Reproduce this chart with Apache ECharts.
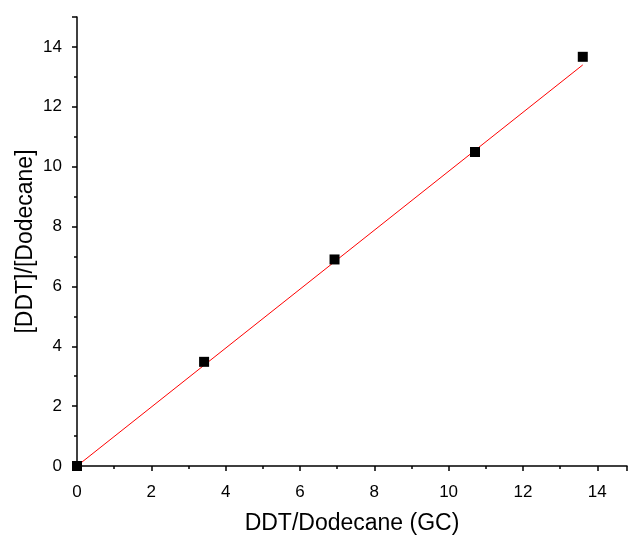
<!DOCTYPE html>
<html><head><meta charset="utf-8">
<script src="https://cdn.jsdelivr.net/npm/echarts@6/dist/echarts.min.js"></script>
<style>html,body{margin:0;padding:0;background:#fff}#c{width:628px;height:536px}</style>
</head><body><div id="c"></div>
<script>
const xValues = [0, 3.42, 6.93, 10.71, 13.61];
const yValues = [0, 3.48, 6.9, 10.49, 13.67];
const fitX = [0, 13.61];
const fitY = [0, 13.40];
const xTitle = 'DDT/Dodecane (GC)';
const yTitle = '[DDT]/[Dodecane]';

const chart = echarts.init(document.getElementById('c'), null, {renderer: 'canvas'});
const font = 'Liberation Sans, Arial, sans-serif';
const axisCommon = {
  axisLine: {show: true, onZero: false, lineStyle: {color: '#000', width: 1.5}},
  axisTick: {show: true, inside: false, length: 5, lineStyle: {color: '#000', width: 1.5}},
  minorTick: {show: true, splitNumber: 2, length: 3, lineStyle: {color: '#000', width: 1.5}},
  splitLine: {show: false},
  nameMoveOverlap: false,
  nameTextStyle: {color: '#000', fontSize: 23, fontFamily: font}
};
const fmt = v => (v % 2 === 0 && v <= 14) ? String(v) : '';
chart.setOption({
  animation: false,
  grid: {left: 77, top: 17, right: 1, bottom: 70, containLabel: false, outerBoundsMode: 'none'},
  xAxis: Object.assign({}, axisCommon, {
    type: 'value', min: 0, max: 14.8, interval: 2,
    name: xTitle, nameLocation: 'middle', nameGap: 46,
    axisLabel: {color: '#000', fontSize: 17, fontFamily: font, margin: 18, formatter: fmt}
  }),
  yAxis: Object.assign({}, axisCommon, {
    type: 'value', min: 0, max: 15, interval: 2,
    name: yTitle, nameLocation: 'middle', nameGap: 40, nameRotate: 90,
    axisLabel: {color: '#000', fontSize: 17, fontFamily: font, margin: 15, formatter: fmt}
  }),
  series: [
    {
      type: 'line', data: fitX.map((x, i) => [x, fitY[i]]),
      showSymbol: false, lineStyle: {color: '#ff0000', width: 1}, z: 2
    },
    {
      type: 'scatter', data: xValues.map((x, i) => [x, yValues[i]]),
      symbol: 'rect', symbolSize: 10, itemStyle: {color: '#000', opacity: 1}, z: 3
    }
  ]
});
</script></body></html>
